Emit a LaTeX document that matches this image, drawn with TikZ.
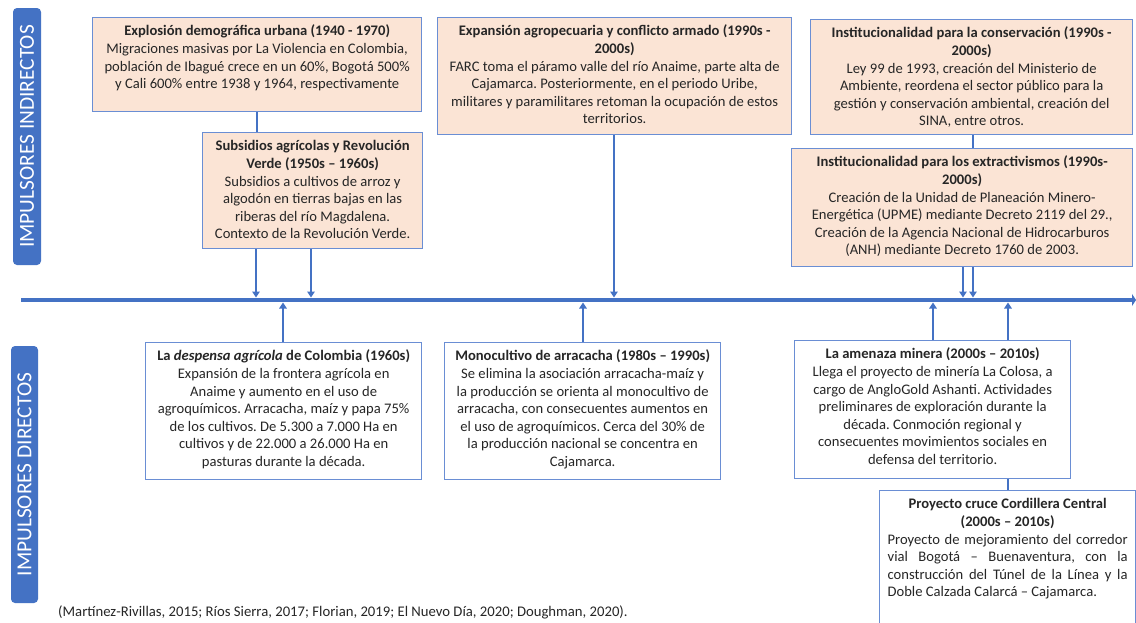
\documentclass[tikz,border=0pt]{standalone}
\usepackage{fontspec}
\setmainfont{Carlito}
\usetikzlibrary{arrows.meta}
\definecolor{tlblue}{HTML}{4472C4}
\definecolor{bordblue}{HTML}{6A8ED4}
\definecolor{peach}{HTML}{FBE4D5}
\definecolor{txt}{HTML}{262626}
\frenchspacing
\begin{document}
\begin{tikzpicture}[x=1pt,y=-1pt,
 box/.style={draw=bordblue, line width=1.3pt, inner xsep=4pt, inner ysep=6pt, anchor=north west, text=txt, font=\fontsize{14.6}{17.6}\selectfont},
 ibox/.style={box, fill=peach},
 dbox/.style={box, fill=white},
 conn/.style={draw=tlblue, line width=2.2pt},
 arr/.style={conn, -{Triangle[length=6pt,width=7.5pt]}},
 side/.style={fill=tlblue, rounded corners=4pt, text=white, rotate=90, inner sep=0pt, font=\fontsize{21.4}{24}\selectfont}]
\useasboundingbox[fill=white] (0,0) rectangle (1136,622);

\node[side, minimum width=257pt, minimum height=28pt] (s1) at (27,136.5) {IMPULSORES INDIRECTOS};
\node[side, minimum width=257pt, minimum height=27pt] (s2) at (24.5,474.5) {IMPULSORES DIRECTOS};

\coordinate (tlL) at (21,300);
\coordinate (tlR) at (1136,300);
\coordinate (tlT) at (0,297.5);
\coordinate (tlB) at (0,302.5);
\draw[tlblue, line width=4.5pt, -{Triangle[length=4pt,width=12pt]}] (tlL) -- (tlR);

\node[ibox] (b1) at (92,17) {\parbox[c][82pt][t]{321pt}{\centering\strut\textbf{Explosión demográfica urbana (1940 - 1970)}\\ Migraciones masivas por La Violencia en Colombia,\\ población de Ibagué crece en un 60\%, Bogotá 500\%\\ y Cali 600\% entre 1938 y 1964, respectivamente}};

\node[ibox] (b2) at (202,132) {\parbox[c][104pt][t]{212pt}{\centering\strut\textbf{Subsidios agrícolas y Revolución\\ Verde (1950s – 1960s)}\\ Subsidios a cultivos de arroz y\\ algodón en tierras bajas en las\\ riberas del río Magdalena.\\ Contexto de la Revolución Verde.}};

\node[ibox] (b3) at (437,17) {\parbox[c][105pt][t]{346pt}{\centering\strut\textbf{Expansión agropecuaria y conflicto armado (1990s -\\ 2000s)}\\ FARC toma el páramo valle del río Anaime, parte alta de\\ Cajamarca. Posteriormente, en el periodo Uribe,\\ militares y paramilitares retoman la ocupación de estos\\ territorios.}};

\node[ibox] (b4) at (810,19) {\parbox[c][103pt][t]{314pt}{\centering\strut\textbf{Institucionalidad para la conservación (1990s -\\ 2000s)}\\ Ley 99 de 1993, creación del Ministerio de\\ Ambiente, reordena el sector público para la\\ gestión y conservación ambiental, creación del\\ SINA, entre otros.}};

\node[ibox] (b5) at (791,148) {\parbox[c][106pt][t]{333pt}{\centering\strut\textbf{Institucionalidad para los extractivismos (1990s-\\ 2000s)}\\ Creación de la Unidad de Planeación Minero-\\ Energética (UPME) mediante Decreto 2119 del 29.,\\ Creación\ de la Agencia Nacional de Hidrocarburos\\ (ANH) mediante Decreto 1760 de 2003.}};

\node[dbox] (b6) at (145,342) {\parbox[c][125pt][t]{268pt}{\centering\strut\textbf{La \textit{despensa agrícola} de Colombia (1960s)}\\ Expansión de la frontera agrícola en\\ Anaime y aumento en el uso de\\ agroquímicos. Arracacha, maíz y papa 75\%\\ de los cultivos. De 5.300 a 7.000 Ha en\\ cultivos y de 22.000 a 26.000 Ha en\\ pasturas durante la década.}};

\node[dbox] (b7) at (444,342) {\parbox[c][125pt][t]{268pt}{\centering\strut\textbf{Monocultivo de arracacha (1980s – 1990s)}\\ Se elimina la asociación arracacha-maíz y\\ la producción se orienta al monocultivo de\\ arracacha, con consecuentes aumentos en\\ el uso de agroquímicos. Cerca del 30\% de\\ la producción nacional se concentra en\\ Cajamarca.}};

\node[dbox] (b8) at (794,340) {\parbox[c][126pt][t]{268pt}{\centering\strut\textbf{La amenaza minera (2000s – 2010s)}\\ Llega el proyecto de minería La Colosa, a\\ cargo de AngloGold Ashanti. Actividades\\ preliminares de exploración durante la\\ década. Conmoción regional y\\ consecuentes movimientos sociales en\\ defensa del territorio.}};

\node[dbox, inner xsep=8pt] (b9) at (879,490) {\parbox[c][138pt][t]{240pt}{{\centering\strut\textbf{Proyecto cruce Cordillera Central\\ (2000s – 2010s)}\par}\makebox[240pt][s]{Proyecto de mejoramiento del corredor}\\ \makebox[240pt][s]{vial Bogotá – Buenaventura, con la}\\ \makebox[240pt][s]{construcción del Túnel de la Línea y la}\\ Doble Calzada Calarcá – Cajamarca.}};

\draw[conn] (257,0 |- b1.south) -- (257,0 |- b2.north);
\draw[arr] (256,0 |- b2.south) -- (256,0 |- tlT);
\draw[arr] (311,0 |- b2.south) -- (311,0 |- tlT);
\draw[arr] (614,0 |- b3.south) -- (614,0 |- tlT);
\draw[conn] (973,0 |- b4.south) -- (973,0 |- b5.north);
\draw[arr] (963,0 |- b5.south) -- (963,0 |- tlT);
\draw[arr] (973,0 |- b5.south) -- (973,0 |- tlT);
\draw[arr] (283,0 |- b6.north) -- (283,0 |- tlB);
\draw[arr] (583,0 |- b7.north) -- (583,0 |- tlB);
\draw[arr] (933,0 |- b8.north) -- (933,0 |- tlB);
\draw[arr] (1008,0 |- b8.north) -- (1008,0 |- tlB);
\draw[conn] (1008,0 |- b9.north) -- (1008,0 |- b8.south);

\node[anchor=west, inner sep=0pt, text=txt, font=\fontsize{14.7}{17}\selectfont] (cit) at (58,612) {(Martínez-Rivillas, 2015; Ríos Sierra, 2017; Florian, 2019; El Nuevo Día, 2020; Doughman, 2020).};
\end{tikzpicture}
\end{document}
